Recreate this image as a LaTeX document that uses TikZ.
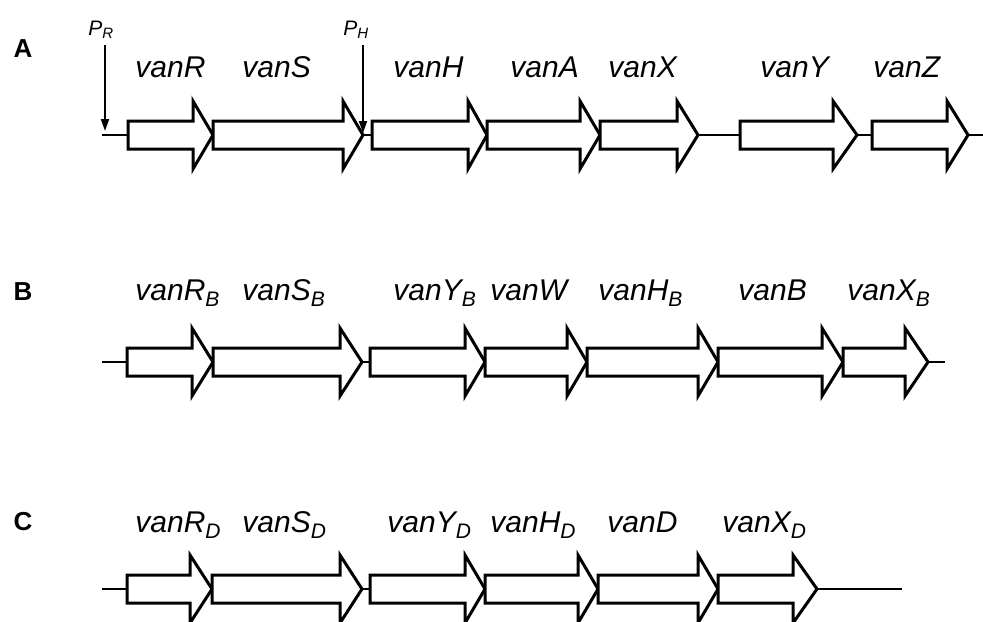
\documentclass[tikz,border=0pt]{standalone}
\usepackage{fontspec}
\setmainfont{Liberation Sans}
\usetikzlibrary{arrows.meta}

\newcommand{\lowidx}[1]{\raisebox{-0.4ex}{\fontsize{10.5}{10.5}\selectfont #1}}

\tikzset{
  gene/.style={draw, line width=1.5pt, fill=white, line join=miter},
  backbone/.style={line width=1.4pt},
  promoter/.style={line width=0.9pt, -{Triangle[length=6pt,width=4pt]}},
  genename/.style={anchor=base west, inner sep=0pt, font=\fontsize{15}{15}\selectfont\itshape},
  panel/.style={inner sep=0pt, font=\fontsize{13}{13}\selectfont\bfseries},
  promname/.style={anchor=base west, inner sep=0pt, font=\fontsize{10.5}{10.5}\selectfont\itshape}
}

\begin{document}
\begin{tikzpicture}[x=0.5pt, y=-0.5pt]
  \useasboundingbox (0,0) rectangle (983,621);

  %%%%%%%%%%%Draw cluster A%%%%%%%%%%%
  \node[panel] (A) at (23,49) {A};
  \draw[backbone] (102,135) -- (983,135);
  \foreach \s/\b/\t in {128/193/213, 213/343/363, 372/468/487, 487/580/600,
                        600/677/698, 740/833/857, 872/947/968}
    \draw[gene] (\s,121) -- (\b,121) -- (\b,101) -- (\t,135) -- (\b,169) -- (\b,149) -- (\s,149) -- cycle;
  \node[genename] (vanR) at (135,77) {vanR};
  \node[genename] (vanS) at (242,77) {vanS};
  \node[genename] (vanH) at (393,77) {vanH};
  \node[genename] (vanA) at (510,77) {vanA};
  \node[genename] (vanX) at (608,77) {vanX};
  \node[genename] (vanY) at (760,77) {vanY};
  \node[genename] (vanZ) at (873,77) {vanZ};

  %%%%%%%%%%%Promoters%%%%%%%%%%%%%%%%%
  \node[promname] (pR) at (88,35) {P\raisebox{-0.3ex}{\fontsize{7.5}{7.5}\selectfont R}};
  \node[promname] (pH) at (343,35) {P\raisebox{-0.3ex}{\fontsize{7.5}{7.5}\selectfont H}};
  \coordinate (pRtop) at (105,45);
  \coordinate (pRtip) at (105,131);
  \coordinate (pHtop) at (363,45);
  \coordinate (pHtip) at (363,133);
  \draw[promoter] (pRtop) -- (pRtip);
  \draw[promoter] (pHtop) -- (pHtip);

  %%%%%%%%%%%Draw cluster B%%%%%%%%%%%
  \node[panel] (B) at (23,292) {B};
  \draw[backbone] (102,362) -- (945,362);
  \foreach \s/\b/\t in {127/192/213, 213/340/362, 370/465/485, 485/567/587,
                        587/698/718, 718/822/843, 843/905/928}
    \draw[gene] (\s,348) -- (\b,348) -- (\b,328) -- (\t,362) -- (\b,396) -- (\b,376) -- (\s,376) -- cycle;
  \node[genename] (vanRB) at (135,300) {vanR\lowidx{B}};
  \node[genename] (vanSB) at (242,300) {vanS\lowidx{B}};
  \node[genename] (vanYB) at (393,300) {vanY\lowidx{B}};
  \node[genename] (vanW)  at (490,300) {vanW};
  \node[genename] (vanHB) at (598,300) {vanH\lowidx{B}};
  \node[genename] (vanB)  at (738,300) {vanB};
  \node[genename] (vanXB) at (847,300) {vanX\lowidx{B}};

  %%%%%%%%%%%Draw cluster C%%%%%%%%%%%
  \node[panel] (C) at (23,522) {C};
  \draw[backbone] (102,589) -- (902,589);
  \foreach \s/\b/\t in {127/190/212, 212/340/362, 370/465/485, 485/578/598,
                        598/698/718, 718/793/817}
    \draw[gene] (\s,575) -- (\b,575) -- (\b,555) -- (\t,589) -- (\b,623) -- (\b,603) -- (\s,603) -- cycle;
  \node[genename] (vanRD) at (135,532) {vanR\lowidx{D}};
  \node[genename] (vanSD) at (242,532) {vanS\lowidx{D}};
  \node[genename] (vanYD) at (387,532) {vanY\lowidx{D}};
  \node[genename] (vanHD) at (490,532) {vanH\lowidx{D}};
  \node[genename] (vanD)  at (607,532) {vanD};
  \node[genename] (vanXD) at (722,532) {vanX\lowidx{D}};
\end{tikzpicture}
\end{document}
